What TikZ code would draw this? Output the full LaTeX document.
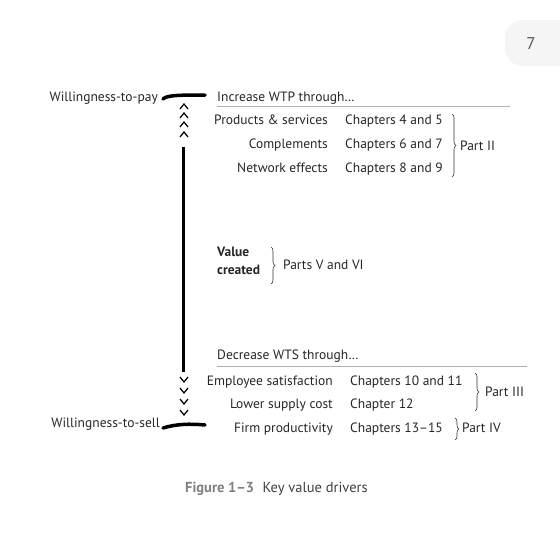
\documentclass[tikz,border=0pt]{standalone}
\usepackage{fontspec}
\setmainfont{PT Sans}
\usetikzlibrary{positioning, decorations.pathreplacing}

\tikzset{
    label_text/.style={font=\fontsize{13.5}{15}\selectfont, text=black!85, inner sep=0pt},
    rule_line/.style={draw=gray!60, line width=0.7pt},
    bar_line/.style={line width=3.5pt, line cap=round},
    chevron/.style={line width=1.2pt},
    part_brace/.style={decorate, decoration={brace, amplitude=4pt}, line width=0.6pt, draw=black!80},
}

\begin{document}
\begin{tikzpicture}[x=1pt, y=-1pt]
\useasboundingbox (0,0) rectangle (560,560);

% page tab
\fill [gray!8, rounded corners=18pt] (505,20) rectangle (600,66);
\node [font=\fontsize{17}{18}\selectfont, text=black!65] (page_num) at (531,44) {7};

% the two ends of the scale
\node [label_text, anchor=base east] (wtp) at (158,101) {Willingness-to-pay};
\node [label_text, anchor=base east] (wts) at (160,427) {Willingness-to-sell};

\coordinate (bar_top_l) at (163,99);
\coordinate (bar_top_r) at (205,95);
\coordinate (bar_bot_l) at (163,428);
\coordinate (bar_bot_r) at (205,425);
\draw [bar_line] (bar_top_l) .. controls (167,95.5) and (175,95) .. (bar_top_r);
\draw [bar_line] (bar_bot_l) .. controls (176,424) and (190,423.5) .. (bar_bot_r);

\coordinate (axis_top) at (183,147);
\coordinate (axis_bot) at (183,372);
\draw [line width=3pt] (axis_top) -- (axis_bot);

\foreach \y in {104,113,122,132} {
    \draw [chevron] (180,\y+5) -- (184,\y) -- (188,\y+5);
}
\foreach \y in {377,388,399,410} {
    \draw [chevron] (180,\y) -- (184,\y+5) -- (188,\y);
}

% increase WTP
\node [label_text, anchor=base west] (wtp_head) at (217,101) {Increase WTP through\dots};
\draw [rule_line] (217,106) -- (510,106);

\node [label_text, anchor=base east] (prod) at (328,124) {Products \& services};
\node [label_text, anchor=base east] (compl) at (328,148) {Complements};
\node [label_text, anchor=base east] (netw) at (328,172) {Network effects};

\node [label_text, anchor=base west] (ch_prod) at (345,124) {Chapters 4 and 5};
\node [label_text, anchor=base west] (ch_compl) at (345,148) {Chapters 6 and 7};
\node [label_text, anchor=base west] (ch_netw) at (345,172) {Chapters 8 and 9};

\draw [part_brace] (452,114) -- (452,177);
\node [label_text, anchor=base west] (part_2) at (460,150) {Part II};

% value created
\node [label_text,
    font=\fontsize{13.5}{18}\selectfont\bfseries,
    align=left,
    anchor=north west
] (value) at (217,247) {Value\\created};
\draw [part_brace] (271,247) -- (271,284);
\node [label_text, anchor=base west] (parts_56) at (283,269) {Parts V and VI};

% decrease WTS
\node [label_text, anchor=base west] (wts_head) at (217,359) {Decrease WTS through\dots};
\draw [rule_line] (217,366) -- (527,366);

\node [label_text, anchor=base east] (empl) at (333,385) {Employee satisfaction};
\node [label_text, anchor=base east] (supply) at (333,408) {Lower supply cost};
\node [label_text, anchor=base east] (firm) at (333,432) {Firm productivity};

\node [label_text, anchor=base west] (ch_empl) at (350,385) {Chapters 10 and 11};
\node [label_text, anchor=base west] (ch_supply) at (350,408) {Chapter 12};
\node [label_text, anchor=base west] (ch_firm) at (350,432) {Chapters 13–15};

\draw [part_brace] (475,373) -- (475,411);
\node [label_text, anchor=base west] (part_3) at (485,396) {Part III};
\draw [part_brace] (455,418) -- (455,440);
\node [label_text, anchor=base west] (part_4) at (462,432) {Part IV};

% caption
\node [label_text, text=gray, font=\fontsize{14.5}{16}\selectfont\bfseries, anchor=base west] (fig_num) at (185,492) {Figure 1–3};
\node [label_text, font=\fontsize{14.5}{16}\selectfont, text=black!75, right=8pt of fig_num.base east, anchor=base west] (fig_title) {Key value drivers};

\end{tikzpicture}
\end{document}
